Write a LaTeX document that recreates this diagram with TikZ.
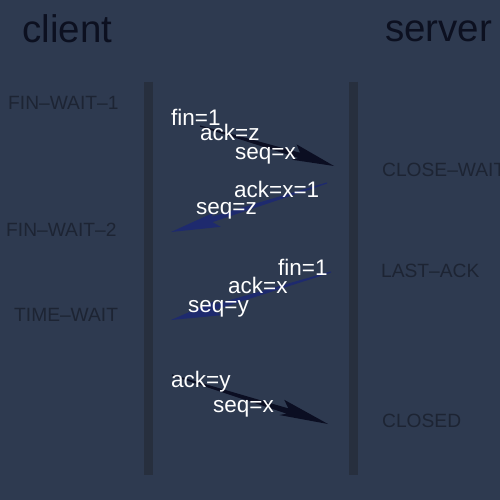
\documentclass[tikz,border=0pt]{standalone}
\usepackage{fontspec}
\setmainfont{Liberation Sans}
\usetikzlibrary{calc}
\definecolor{bg}{HTML}{2E3A50}
\definecolor{bar}{HTML}{272F3E}
\definecolor{dark}{HTML}{0C1020}
\definecolor{state}{HTML}{1D2433}
\definecolor{blk}{HTML}{0B0E22}
\definecolor{blu}{HTML}{1E2A6E}
\newcommand{\brusharrow}[3]{%
  \coordinate (#1n) at ($(#1)!0.74!(#2)$);
  \coordinate (#1b) at ($(#1)!0.70!(#2)$);
  \fill[#3] ($(#1)!0.6pt!90:(#2)$) -- ($(#1n)!3pt!90:(#2)$) -- ($(#1b)!10pt!90:(#2)$) -- (#2)
    -- ($(#1b)!6pt!-90:(#2)$) -- ($(#1n)!2.5pt!-90:(#2)$) -- ($(#1)!0.6pt!-90:(#2)$) -- cycle;}
\tikzset{
  title/.style={font=\fontsize{38.5}{38.5}\selectfont, text=dark, inner sep=0pt, anchor=base},
  st/.style={font=\fontsize{19.2}{19.2}\selectfont, text=state, inner sep=0pt, anchor=base west},
  msg/.style={font=\fontsize{22.5}{22.5}\selectfont, text=white, inner sep=0pt, anchor=base west},
  lifeline/.style={bar, line width=9pt}
}
\begin{document}
\begin{tikzpicture}[x=1pt,y=-1pt]
\fill[bg] (0,0) rectangle (500,500);
\useasboundingbox (0,0) rectangle (500,500);
% lifelines
\coordinate (ct) at (148.5,82); \coordinate (cb) at (148.5,475);
\coordinate (stp) at (353,82); \coordinate (sb) at (353,475);
\draw[lifeline] (ct) -- (cb);
\draw[lifeline] (stp) -- (sb);
% titles
\node[title] (client) at (67.5,43) {client};
\node[title] (server) at (438.5,42) {server};
% states
\node[st] (fw1) at (8,110) {FIN–WAIT–1};
\node[st] (fw2) at (6,236) {FIN–WAIT–2};
\node[st] (tw) at (14,321) {TIME–WAIT};
\node[st] (cw) at (382,176) {CLOSE–WAIT};
\node[st] (la) at (381,277) {LAST–ACK};
\node[st] (cl) at (382,427) {CLOSED};
% arrows
\coordinate (a1s) at (200,126); \coordinate (a1e) at (334,166);
\coordinate (a2s) at (327,183); \coordinate (a2e) at (171,232);
\coordinate (a3s) at (331,272); \coordinate (a3e) at (171,320);
\coordinate (a4s) at (172,375); \coordinate (a4e) at (328,424);
\brusharrow{a1s}{a1e}{blk}
\brusharrow{a2s}{a2e}{blu}
\brusharrow{a3s}{a3e}{blu}
\brusharrow{a4s}{a4e}{blk}
% messages
\node[msg] (m1a) at (171,125) {fin=1};
\node[msg] (m1b) at (200,140) {ack=z};
\node[msg] (m1c) at (235,159) {seq=x};
\node[msg] (m2a) at (234,197) {ack=x=1};
\node[msg] (m2b) at (196,214) {seq=z};
\node[msg] (m3a) at (278,275) {fin=1};
\node[msg] (m3b) at (228,293) {ack=x};
\node[msg] (m3c) at (188,312) {seq=y};
\node[msg] (m4a) at (171,387) {ack=y};
\node[msg] (m4b) at (213,412) {seq=x};
\end{tikzpicture}
\end{document}
